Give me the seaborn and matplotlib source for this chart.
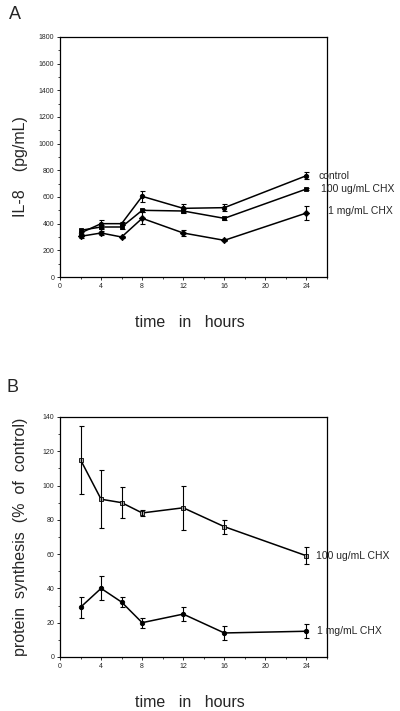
# IL-8 release and protein synthesis with cycloheximide (CHX)
import numpy as np
import pandas as pd
import matplotlib
matplotlib.use('Agg')
import matplotlib.pyplot as plt
import seaborn as sns
from matplotlib.ticker import MultipleLocator

sns.set_style('ticks')
plt.rcParams['font.family'] = ['Liberation Sans', 'DejaVu Sans']

# hours after treatment
hours = [2, 4, 6, 8, 12, 16, 24]

# panel A: IL-8 (pg/mL)
il8_control = [330, 400, 400, 605, 515, 520, 760]
il8_control_err = [12, 30, 12, 40, 30, 25, 25]
il8_100ug = [350, 375, 375, 500, 495, 440, 660]
il8_100ug_err = [10, 12, 12, 12, 12, 12, 10]
il8_1mg = [305, 330, 300, 440, 330, 275, 480]
il8_1mg_err = [15, 12, 10, 45, 20, 8, 55]

# panel B: protein synthesis (% of control)
ps_100ug = [115, 92, 90, 84, 87, 76, 59]
ps_100ug_err = [20, 17, 9, 2, 13, 4, 5]
ps_1mg = [29, 40, 32, 20, 25, 14, 15]
ps_1mg_err = [6, 7, 3, 3, 4, 4, 4]

labels_a = ['control', '100 ug/mL CHX', '1 mg/mL CHX']
labels_b = ['100 ug/mL CHX', '1 mg/mL CHX']

df_a = pd.DataFrame({
    'hours': hours * 3,
    'value': il8_control + il8_100ug + il8_1mg,
    'group': np.repeat(labels_a, len(hours)),
})
df_b = pd.DataFrame({
    'hours': hours * 2,
    'value': ps_100ug + ps_1mg,
    'group': np.repeat(labels_b, len(hours)),
})

fig = plt.figure(figsize=(4, 7.11), dpi=100)
ax_a = fig.add_axes([0.15, 0.6104, 0.6675, 0.3376])
ax_b = fig.add_axes([0.15, 0.076, 0.6675, 0.3376])

# --- panel A ---
sns.lineplot(data=df_a, x='hours', y='value', hue='group', style='group',
             palette={g: 'black' for g in labels_a},
             markers={'control': 'o', '100 ug/mL CHX': 's', '1 mg/mL CHX': 'D'},
             dashes=False, markersize=3.2, linewidth=1.1, legend=False, ax=ax_a,
             markeredgecolor='black', markeredgewidth=0.6)
for vals, errs in [(il8_control, il8_control_err), (il8_100ug, il8_100ug_err),
                   (il8_1mg, il8_1mg_err)]:
    ax_a.errorbar(hours, vals, yerr=errs, fmt='none', ecolor='black',
                  elinewidth=0.8, capsize=1.8, capthick=0.8)
ax_a.set_ylim(0, 1800)
ax_a.yaxis.set_major_locator(MultipleLocator(200))
ax_a.yaxis.set_minor_locator(MultipleLocator(100))
ax_a.text(25.2, 760, 'control', fontsize=7.5, va='center', clip_on=False)
ax_a.text(25.4, 660, '100 ug/mL CHX', fontsize=7.5, va='center', clip_on=False)
ax_a.text(26.1, 495, '1 mg/mL CHX', fontsize=7.5, va='center', clip_on=False)
ax_a.set_ylabel('IL-8    (pg/mL)', fontsize=11.5)
ax_a.yaxis.set_label_coords(-0.12, 0.46)

# --- panel B ---
sns.lineplot(data=df_b, x='hours', y='value', hue='group', style='group',
             palette={g: 'black' for g in labels_b},
             markers={'100 ug/mL CHX': 's', '1 mg/mL CHX': 'o'},
             dashes=False, markersize=3.2, linewidth=1.1, legend=False, ax=ax_b,
             markeredgecolor='black', markeredgewidth=0.6)
ax_b.get_lines()[0].set_markerfacecolor('#b0b0b0')
for vals, errs in [(ps_100ug, ps_100ug_err), (ps_1mg, ps_1mg_err)]:
    ax_b.errorbar(hours, vals, yerr=errs, fmt='none', ecolor='black',
                  elinewidth=0.8, capsize=1.8, capthick=0.8)
ax_b.set_ylim(0, 140)
ax_b.yaxis.set_major_locator(MultipleLocator(20))
ax_b.yaxis.set_minor_locator(MultipleLocator(10))
ax_b.text(24.9, 59, '100 ug/mL CHX', fontsize=7.5, va='center', clip_on=False)
ax_b.text(25.0, 15, '1 mg/mL CHX', fontsize=7.5, va='center', clip_on=False)
ax_b.set_ylabel('protein  synthesis  (%  of  control)', fontsize=11.5)
ax_b.yaxis.set_label_coords(-0.12, 0.5)

for ax in (ax_a, ax_b):
    ax.set_xlim(0, 26)
    ax.set_xticks([0, 4, 8, 12, 16, 20, 24])
    ax.xaxis.set_minor_locator(MultipleLocator(2))
    ax.tick_params(which='major', direction='out', length=2.5, width=0.7, labelsize=5, pad=1.5)
    ax.tick_params(which='minor', direction='out', length=1.5, width=0.6)
    for s in ax.spines.values():
        s.set_linewidth(0.9)
        s.set_color('black')
    ax.set_xlabel('time   in   hours', fontsize=11.5)
    ax.xaxis.set_label_coords(0.487, -0.16)

fig.text(0.0375, 0.979, 'A', fontsize=13, va='center', ha='center')
fig.text(0.0325, 0.455, 'B', fontsize=13, va='center', ha='center')

fig.savefig('out.png', dpi=100)
